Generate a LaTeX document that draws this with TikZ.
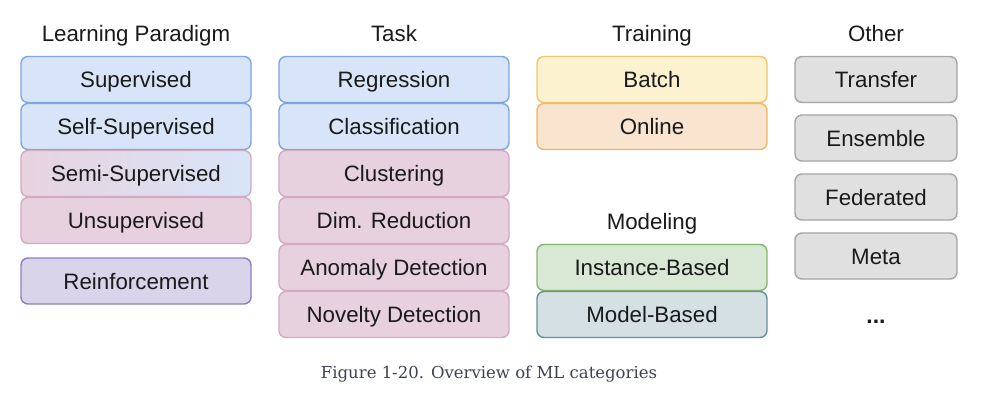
\documentclass[tikz,border=0pt]{standalone}
\usepackage{fontspec}
\setmainfont{Liberation Sans}
\newfontfamily\capfont{DejaVu Serif}
\definecolor{bluefill}{HTML}{D8E5F8}
\definecolor{bluedraw}{HTML}{7EA6E0}
\definecolor{pinkfill}{HTML}{E7D1DE}
\definecolor{pinkdraw}{HTML}{D2AAC3}
\definecolor{purpfill}{HTML}{D9D4EA}
\definecolor{purpdraw}{HTML}{8A7FC4}
\definecolor{yelfill}{HTML}{FCF2CF}
\definecolor{yeldraw}{HTML}{F2C471}
\definecolor{orfill}{HTML}{F8E4CF}
\definecolor{ordraw}{HTML}{F0B766}
\definecolor{grnfill}{HTML}{D9E8D5}
\definecolor{grndraw}{HTML}{86B36E}
\definecolor{tealfill}{HTML}{D4E0E4}
\definecolor{tealdraw}{HTML}{66919B}
\definecolor{grayfill}{HTML}{E0E0E0}
\definecolor{graydraw}{HTML}{A5A5A5}
\definecolor{txt}{HTML}{1A1A1A}
\definecolor{captxt}{HTML}{3E4352}
\begin{document}
\begin{tikzpicture}[x=1pt,y=-1pt,
  box/.style={rectangle,rounded corners=7pt,line width=1.4pt,inner sep=0pt,outer sep=0pt,
    minimum width=230pt,minimum height=46pt,text=txt,font=\fontsize{22.3}{26}\selectfont,
    text height=16pt,text depth=0pt},
  obox/.style={box,minimum width=162pt},
  hdr/.style={text=txt,font=\fontsize{22.3}{26}\selectfont,inner sep=0pt,text height=16pt,text depth=0pt},
  cblue/.style={fill=bluefill,draw=bluedraw},
  cpink/.style={fill=pinkfill,draw=pinkdraw},
  cpurp/.style={fill=purpfill,draw=purpdraw},
  cyel/.style={fill=yelfill,draw=yeldraw},
  cor/.style={fill=orfill,draw=ordraw},
  cgrn/.style={fill=grnfill,draw=grndraw},
  cteal/.style={fill=tealfill,draw=tealdraw},
  cgray/.style={fill=grayfill,draw=graydraw}]
\fill[white] (0,0) rectangle (1005,400);
\useasboundingbox (0,0) rectangle (1005,400);
% headers
\node[hdr] (h1) at (136,33) {Learning Paradigm};
\node[hdr] (h2) at (394,33) {Task};
\node[hdr] (h3) at (652,33) {Training};
\node[hdr] (h4) at (876,33) {Other};
\node[hdr] (h5) at (652,221) {Modeling};
% column 1
\node[box,cblue] (sup) at (136,79.5) {Supervised};
\node[box,cblue] (self) at (136,126.5) {Self-Supervised};
\node[box,draw=pinkdraw,left color=pinkfill!97!white,right color=bluefill] (semi) at (136,173.5) {Semi-Supervised};
\node[box,cpink] (unsup) at (136,220.5) {Unsupervised};
\node[box,cpurp] (rein) at (136,281) {Reinforcement};
% column 2
\node[box,cblue] (reg) at (394,79.5) {Regression};
\node[box,cblue] (cls) at (394,126.5) {Classification};
\node[box,cpink] (clu) at (394,173.5) {Clustering};
\node[box,cpink] (dim) at (394,220.5) {Dim. Reduction};
\node[box,cpink] (ano) at (394,267.5) {Anomaly Detection};
\node[box,cpink] (nov) at (394,314.5) {Novelty Detection};
% column 3
\node[box,cyel] (bat) at (652,79.5) {Batch};
\node[box,cor] (onl) at (652,126.5) {Online};
\node[box,cgrn] (ins) at (652,267.5) {Instance-Based};
\node[box,cteal] (mod) at (652,314.5) {Model-Based};
% column 4
\node[obox,cgray] (tra) at (876,79.5) {Transfer};
\node[obox,cgray] (ens) at (876,138) {Ensemble};
\node[obox,cgray] (fed) at (876,197) {Federated};
\node[obox,cgray] (met) at (876,256) {Meta};
\node[hdr,font=\fontsize{23}{26}\selectfont\bfseries,text height=3pt] (dots) at (876,321.5) {...};
% caption
\node[inner sep=0pt,text=captxt,text height=12pt,text depth=0pt,font=\capfont\fontsize{16.5}{20}\selectfont] (cap) at (489,372) {Figure 1-20. Overview of ML categories};
\end{tikzpicture}
\end{document}
